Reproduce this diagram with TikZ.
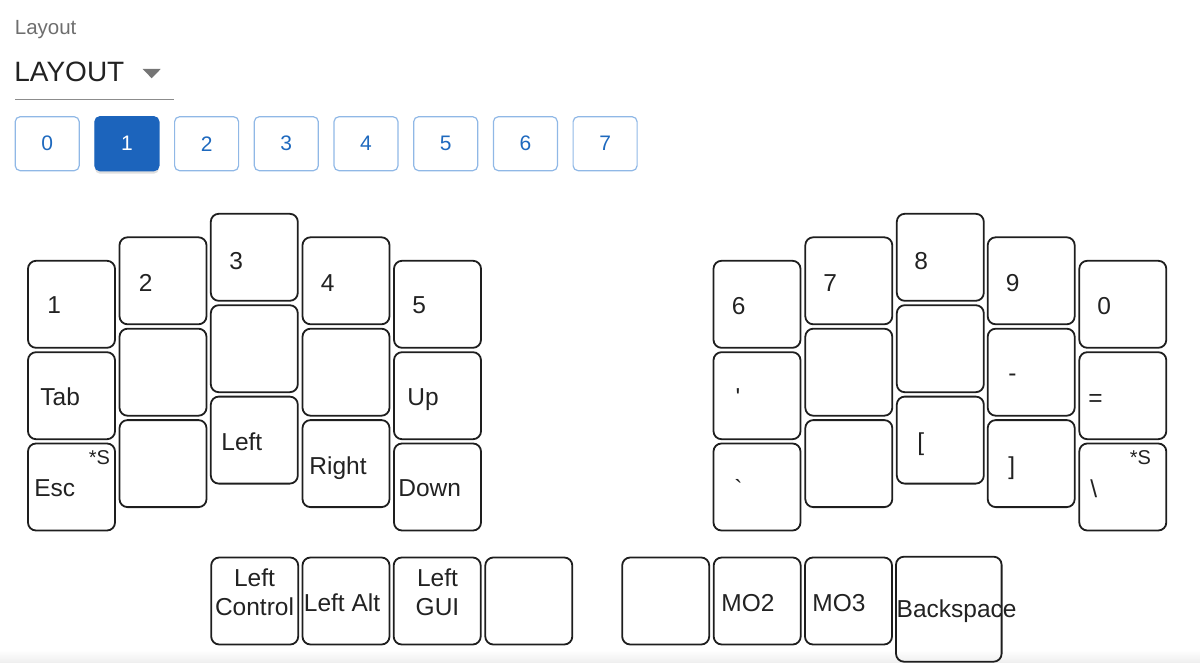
\documentclass[tikz,border=0pt]{standalone}
\usepackage{fontspec}
\setmainfont{Liberation Sans}
\usepackage{xcolor}
\definecolor{Col1}{RGB}{30,30,30}
\definecolor{Col2}{RGB}{34,34,34}
\definecolor{Col3}{RGB}{144,184,230}
\definecolor{Col4}{RGB}{30,105,190}
\definecolor{Col5}{RGB}{28,100,188}
\definecolor{Col6}{RGB}{110,110,110}
\definecolor{Col7}{RGB}{117,117,117}
\definecolor{Col8}{RGB}{140,140,140}
\definecolor{Col9}{RGB}{238,238,238}
\usepackage{tikz}
\usetikzlibrary{shadows}
\tikzstyle{KeyNode}=[draw=Col1,line width=.9pt,rounded corners=4pt,
minimum width=43.5pt,minimum height=43.5pt,inner sep=0pt]
\tikzstyle{KeyBig}=[KeyNode,minimum width=52.8pt,minimum height=52.5pt]
\tikzstyle{KeyST}=[anchor=base west,inner sep=0pt,text=Col2,
font=\fontsize{12.25pt}{14.5pt}\selectfont]
\tikzstyle{KeySTC}=[KeyST,anchor=base,align=center]
\tikzstyle{KeyTag}=[KeyST,font=\fontsize{10pt}{12pt}\selectfont]
\tikzstyle{LayerBtn}=[draw=Col3,line width=.6pt,rounded corners=2.5pt,
minimum width=32pt,minimum height=27pt,inner sep=0pt,text=Col4,
font=\fontsize{10.5pt}{12pt}\selectfont]
\tikzstyle{LayerSel}=[LayerBtn,draw=Col5,fill=Col5,text=white,
drop shadow={opacity=.25,shadow xshift=0pt,shadow yshift=-1.5pt}]

\begin{document}
\begin{tikzpicture}[x=.5pt,y=-.5pt]
        \useasboundingbox (0,0) rectangle (1200,663);
        \shade[top color=white,bottom color=Col9] (0,650) rectangle (1200,663);
        \node[KeyST,text=Col6,font=\fontsize{10.25pt}{12pt}\selectfont](title)at(14.5,35){Layout};
        \node[KeyST,text=Col2,font=\fontsize{14pt}{16pt}\selectfont](sel)at(14,82){LAYOUT};
        \fill[Col7] (142.7,69) -- (160.7,69) -- (151.7,78.3) -- cycle;
        \draw[Col8,line width=.6pt] (15,99.5) -- (174,99.5);
        \node[LayerBtn](y0)at(47.2,143.7){0};
        \node[LayerSel](y1)at(126.9,143.7){1};
        \node[LayerBtn](y2)at(206.6,143.7){2};
        \node[LayerBtn](y3)at(286.3,143.7){3};
        \node[LayerBtn](y4)at(366.0,143.7){4};
        \node[LayerBtn](y5)at(445.7,143.7){5};
        \node[LayerBtn](y6)at(525.4,143.7){6};
        \node[LayerBtn](y7)at(605.1,143.7){7};
        \node[KeyNode](a1)at(71.5,304.3){};
        \node[KeyNode](a2)at(163.0,280.8){};
        \node[KeyNode](a3)at(254.3,257.3){};
        \node[KeyNode](a4)at(346.0,280.8){};
        \node[KeyNode](a5)at(437.5,304.3){};
        \node[KeyNode](a6)at(71.5,395.7){};
        \node[KeyNode](a7)at(163.0,372.2){};
        \node[KeyNode](a8)at(254.3,348.7){};
        \node[KeyNode](a9)at(346.0,372.2){};
        \node[KeyNode](a10)at(437.5,395.7){};
        \node[KeyNode](a11)at(71.5,487.0){};
        \node[KeyNode](a12)at(163.0,463.6){};
        \node[KeyNode](a13)at(254.3,440.1){};
        \node[KeyNode](a14)at(346.0,463.6){};
        \node[KeyNode](a15)at(437.5,487.0){};
        \node[KeyNode](b1)at(757.0,304.3){};
        \node[KeyNode](b2)at(848.8,280.8){};
        \node[KeyNode](b3)at(940.3,257.3){};
        \node[KeyNode](b4)at(1031.2,280.8){};
        \node[KeyNode](b5)at(1122.8,304.3){};
        \node[KeyNode](b6)at(757.0,395.7){};
        \node[KeyNode](b7)at(848.8,372.2){};
        \node[KeyNode](b8)at(940.3,348.7){};
        \node[KeyNode](b9)at(1031.2,372.2){};
        \node[KeyNode](b10)at(1122.8,395.7){};
        \node[KeyNode](b11)at(757.0,487.0){};
        \node[KeyNode](b12)at(848.8,463.6){};
        \node[KeyNode](b13)at(940.3,440.1){};
        \node[KeyNode](b14)at(1031.2,463.6){};
        \node[KeyNode](b15)at(1122.8,487.0){};
        \node[KeyNode](t1)at(254.7,601.0){};
        \node[KeyNode](t2)at(346.0,601.0){};
        \node[KeyNode](t3)at(437.2,601.0){};
        \node[KeyNode](t4)at(528.8,601.0){};
        \node[KeyNode](t5)at(665.7,601.0){};
        \node[KeyNode](t6)at(757.2,601.0){};
        \node[KeyNode](t7)at(848.5,601.0){};
        \node[KeyBig](t8)at(948.8,609.2){};
        \node[KeyST](la1)at(47,314){1};
        \node[KeyST](la2)at(138.5,291.4){2};
        \node[KeyST](la3)at(229,269.6){3};
        \node[KeyST](la4)at(320.5,291.4){4};
        \node[KeyST](la5)at(412,314){5};
        \node[KeyST](la6)at(40,405.7){Tab};
        \node[KeyST](la10)at(407,405.7){Up};
        \node[KeyST](la11)at(34,496.7){Esc};
        \node[KeyTag](sa11)at(88.5,465){*S};
        \node[KeyST](la13)at(221,450.7){Left};
        \node[KeyST](la14)at(309,474){Right};
        \node[KeyST](la15)at(398,496.7){Down};
        \node[KeyST](lb1)at(731.5,314.5){6};
        \node[KeyST](lb2)at(823,291.3){7};
        \node[KeyST](lb3)at(914,269.4){8};
        \node[KeyST](lb4)at(1005.5,291.3){9};
        \node[KeyST](lb5)at(1097,314.5){0};
        \node[KeyST](lb6)at(735.3,405.7){\textquotesingle};
        \node[KeyST](lb9)at(1008,381.5){-};
        \node[KeyST](lb10)at(1088,406.5){=};
        \node[KeyST](lb11)at(734,497){\textasciigrave};
        \node[KeyST](lb13)at(917,450.5){[};
        \node[KeyST](lb14)at(1008,474){]};
        \node[KeyST](lb15)at(1090,497){\textbackslash};
        \node[KeyTag](sb15)at(1129.5,465){*S};
        \node[KeySTC](lt1)at(254.5,615.7){Left\\Control};
        \node[KeyST](lt2)at(303.5,611){Left Alt};
        \node[KeySTC](lt3)at(437.5,615.7){Left\\GUI};
        \node[KeyST](lt6)at(721,611){MO2};
        \node[KeyST](lt7)at(812,611){MO3};
        \node[KeyST](lt8)at(896.3,617){Backspace};
    \end{tikzpicture}
\end{document}
